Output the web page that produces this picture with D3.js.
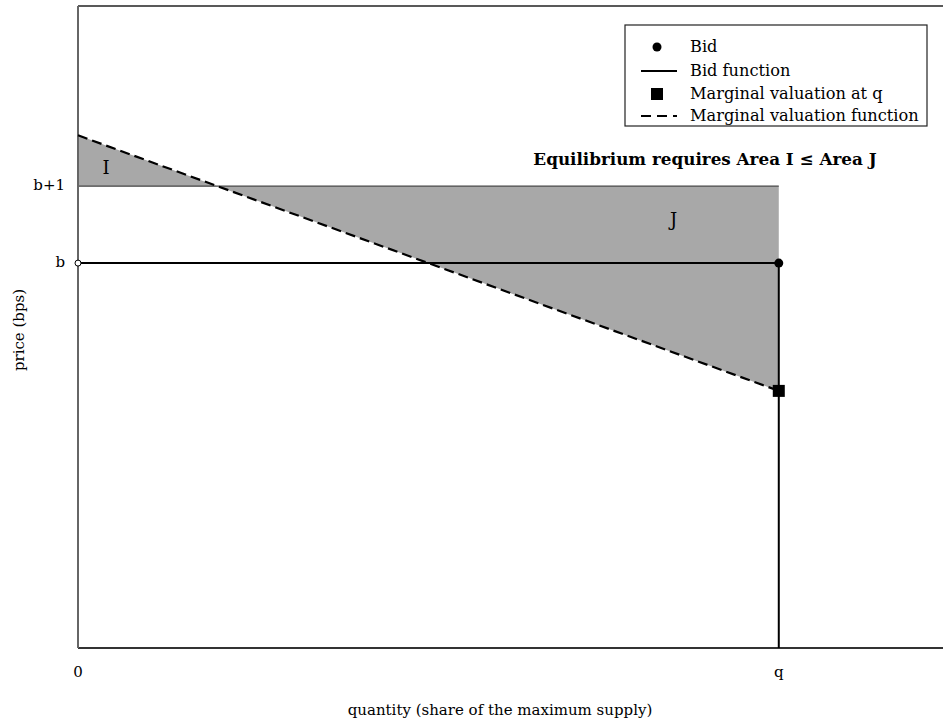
<!DOCTYPE html>
<html>
<head>
<meta charset="utf-8">
<script src="https://cdn.jsdelivr.net/npm/d3@7"></script>
<style>
  body { margin: 0; background: #fff; }
  text { font-family: "DejaVu Serif", serif; }
</style>
</head>
<body>
<div id="chart"></div>
<script>
// values in units relative to the bid b (b = 0) and the quantity q (q = 1)
var bid = 0;
var qBid = 1;
var valuationX = [0, 1];
var valuationY = [1.66, -1.66];
var yTicks = [0, 1];
var yTickLabels = ["b", "b+1"];
var xTicks = [0, 1];
var xTickLabels = ["0", "q"];
var legendLabels = ["Bid", "Bid function", "Marginal valuation at q", "Marginal valuation function"];

var svgWidth = 943;
var svgHeight = 723;

var margin = { top: 6, right: -10, left: 78, bottom: 75 };
var width = svgWidth - margin.left - margin.right;
var height = svgHeight - margin.top - margin.bottom;

var svg = d3.select("#chart").append("svg")
    .attr("width", svgWidth).attr("height", svgHeight);

var chartGroup = svg.append("g")
    .attr("transform", `translate(${margin.left}, ${margin.top})`);

var x = d3.scaleLinear().domain([0, 1.2486]).range([0, width]);
var y = d3.scaleLinear().domain([-5, 3.34]).range([height, 0]);

// marginal valuation as a function of quantity
function valuation(t) {
    return valuationY[0] + (valuationY[1] - valuationY[0]) * (t - valuationX[0]) / (valuationX[1] - valuationX[0]);
}
// where the valuation crosses b+1
var xCross = valuationX[0] + (yTicks[1] - valuationY[0]) / (valuationY[1] - valuationY[0]) * (valuationX[1] - valuationX[0]);

// shaded area I
var areaI = [[0, valuation(0)], [xCross, yTicks[1]], [0, yTicks[1]]];
// shaded area J
var areaJ = [[xCross, yTicks[1]], [qBid, yTicks[1]], [qBid, valuation(qBid)]];

var poly = d3.line().x(d => x(d[0])).y(d => y(d[1]));

chartGroup.append("path").attr("d", poly(areaI) + "Z").attr("fill", "#a8a8a8");
chartGroup.append("path").attr("d", poly(areaJ) + "Z").attr("fill", "#a8a8a8");

// b+1 line
chartGroup.append("line")
    .attr("x1", x(0)).attr("x2", x(qBid))
    .attr("y1", y(yTicks[1])).attr("y2", y(yTicks[1]))
    .attr("stroke", "#444").attr("stroke-width", 1.2);

// frame
chartGroup.append("line").attr("x1", 0).attr("x2", width).attr("y1", 0).attr("y2", 0)
    .attr("stroke", "#222").attr("stroke-width", 1.3);
chartGroup.append("line").attr("x1", 0).attr("x2", width).attr("y1", height).attr("y2", height)
    .attr("stroke", "#333").attr("stroke-width", 2);
chartGroup.append("line").attr("x1", 0).attr("x2", 0).attr("y1", 0).attr("y2", height)
    .attr("stroke", "#666").attr("stroke-width", 2);

// bid function
var bidFn = [[0, bid], [qBid, bid], [qBid, -5]];
chartGroup.append("path").attr("d", poly(bidFn))
    .attr("fill", "none").attr("stroke", "#000").attr("stroke-width", 2);

// marginal valuation function
chartGroup.append("path")
    .attr("d", poly(valuationX.map((v, i) => [v, valuationY[i]])))
    .attr("fill", "none").attr("stroke", "#000").attr("stroke-width", 2.2)
    .attr("stroke-dasharray", "10,5");

// open circle at 0
chartGroup.append("circle").attr("cx", x(0)).attr("cy", y(bid)).attr("r", 3)
    .attr("fill", "#fff").attr("stroke", "#000").attr("stroke-width", 1);

// bid point
chartGroup.append("circle").attr("cx", x(qBid)).attr("cy", y(bid)).attr("r", 4.5).attr("fill", "#000");

// marginal valuation at q
chartGroup.append("rect")
    .attr("x", x(qBid) - 6).attr("y", y(valuation(qBid)) - 6)
    .attr("width", 12).attr("height", 12).attr("fill", "#000");

// area labels
chartGroup.append("text").attr("x", x(0.04)).attr("y", y(1.22)).attr("text-anchor", "middle")
    .attr("dominant-baseline", "middle").style("font-size", "18px").text("I");
chartGroup.append("text").attr("x", x(0.85)).attr("y", y(0.55)).attr("text-anchor", "middle")
    .attr("dominant-baseline", "middle").style("font-size", "18px").text("J");

// annotation
chartGroup.append("text").attr("x", 627).attr("y", y(1.33)).attr("text-anchor", "middle")
    .attr("dominant-baseline", "middle").style("font-size", "16.8px").style("font-weight", "bold")
    .text("Equilibrium requires Area I \u2264 Area J");

// tick labels
chartGroup.selectAll(".ytick").data(yTicks).enter().append("text")
    .attr("x", -13).attr("y", d => y(d)).attr("text-anchor", "end")
    .attr("dominant-baseline", "middle").style("font-size", "15px")
    .text((d, i) => yTickLabels[i]);
chartGroup.selectAll(".xtick").data(xTicks).enter().append("text")
    .attr("x", d => x(d)).attr("y", height + 25).attr("text-anchor", "middle")
    .attr("dominant-baseline", "middle").style("font-size", "15px")
    .text((d, i) => xTickLabels[i]);

// axis titles
svg.append("text").attr("x", 500).attr("y", 711).attr("text-anchor", "middle")
    .attr("dominant-baseline", "middle").style("font-size", "15px")
    .text("quantity (share of the maximum supply)");
svg.append("text").attr("transform", "translate(20, 330) rotate(-90)").attr("text-anchor", "middle")
    .attr("dominant-baseline", "middle").style("font-size", "15px").text("price (bps)");

// legend
var legend = svg.append("g").attr("transform", "translate(625, 25)");
legend.append("rect").attr("width", 302).attr("height", 101)
    .attr("fill", "#fff").attr("stroke", "#222").attr("stroke-width", 1.2);
var rowY = [22, 46, 69, 91];
legendLabels.forEach(function(label, i) {
    var g = legend.append("g").attr("transform", `translate(0, ${rowY[i]})`);
    if (i === 0) g.append("circle").attr("cx", 32).attr("cy", 0).attr("r", 4.5).attr("fill", "#000");
    if (i === 1) g.append("line").attr("x1", 16).attr("x2", 52).attr("stroke", "#000").attr("stroke-width", 2);
    if (i === 2) g.append("rect").attr("x", 26).attr("y", -6).attr("width", 12).attr("height", 12).attr("fill", "#000");
    if (i === 3) g.append("line").attr("x1", 16).attr("x2", 52).attr("stroke", "#000").attr("stroke-width", 2.2)
        .attr("stroke-dasharray", "10,6");
    g.append("text").attr("x", 65).attr("y", 0).attr("dominant-baseline", "middle")
        .style("font-size", "16.2px").text(label);
});
</script>
</body>
</html>
